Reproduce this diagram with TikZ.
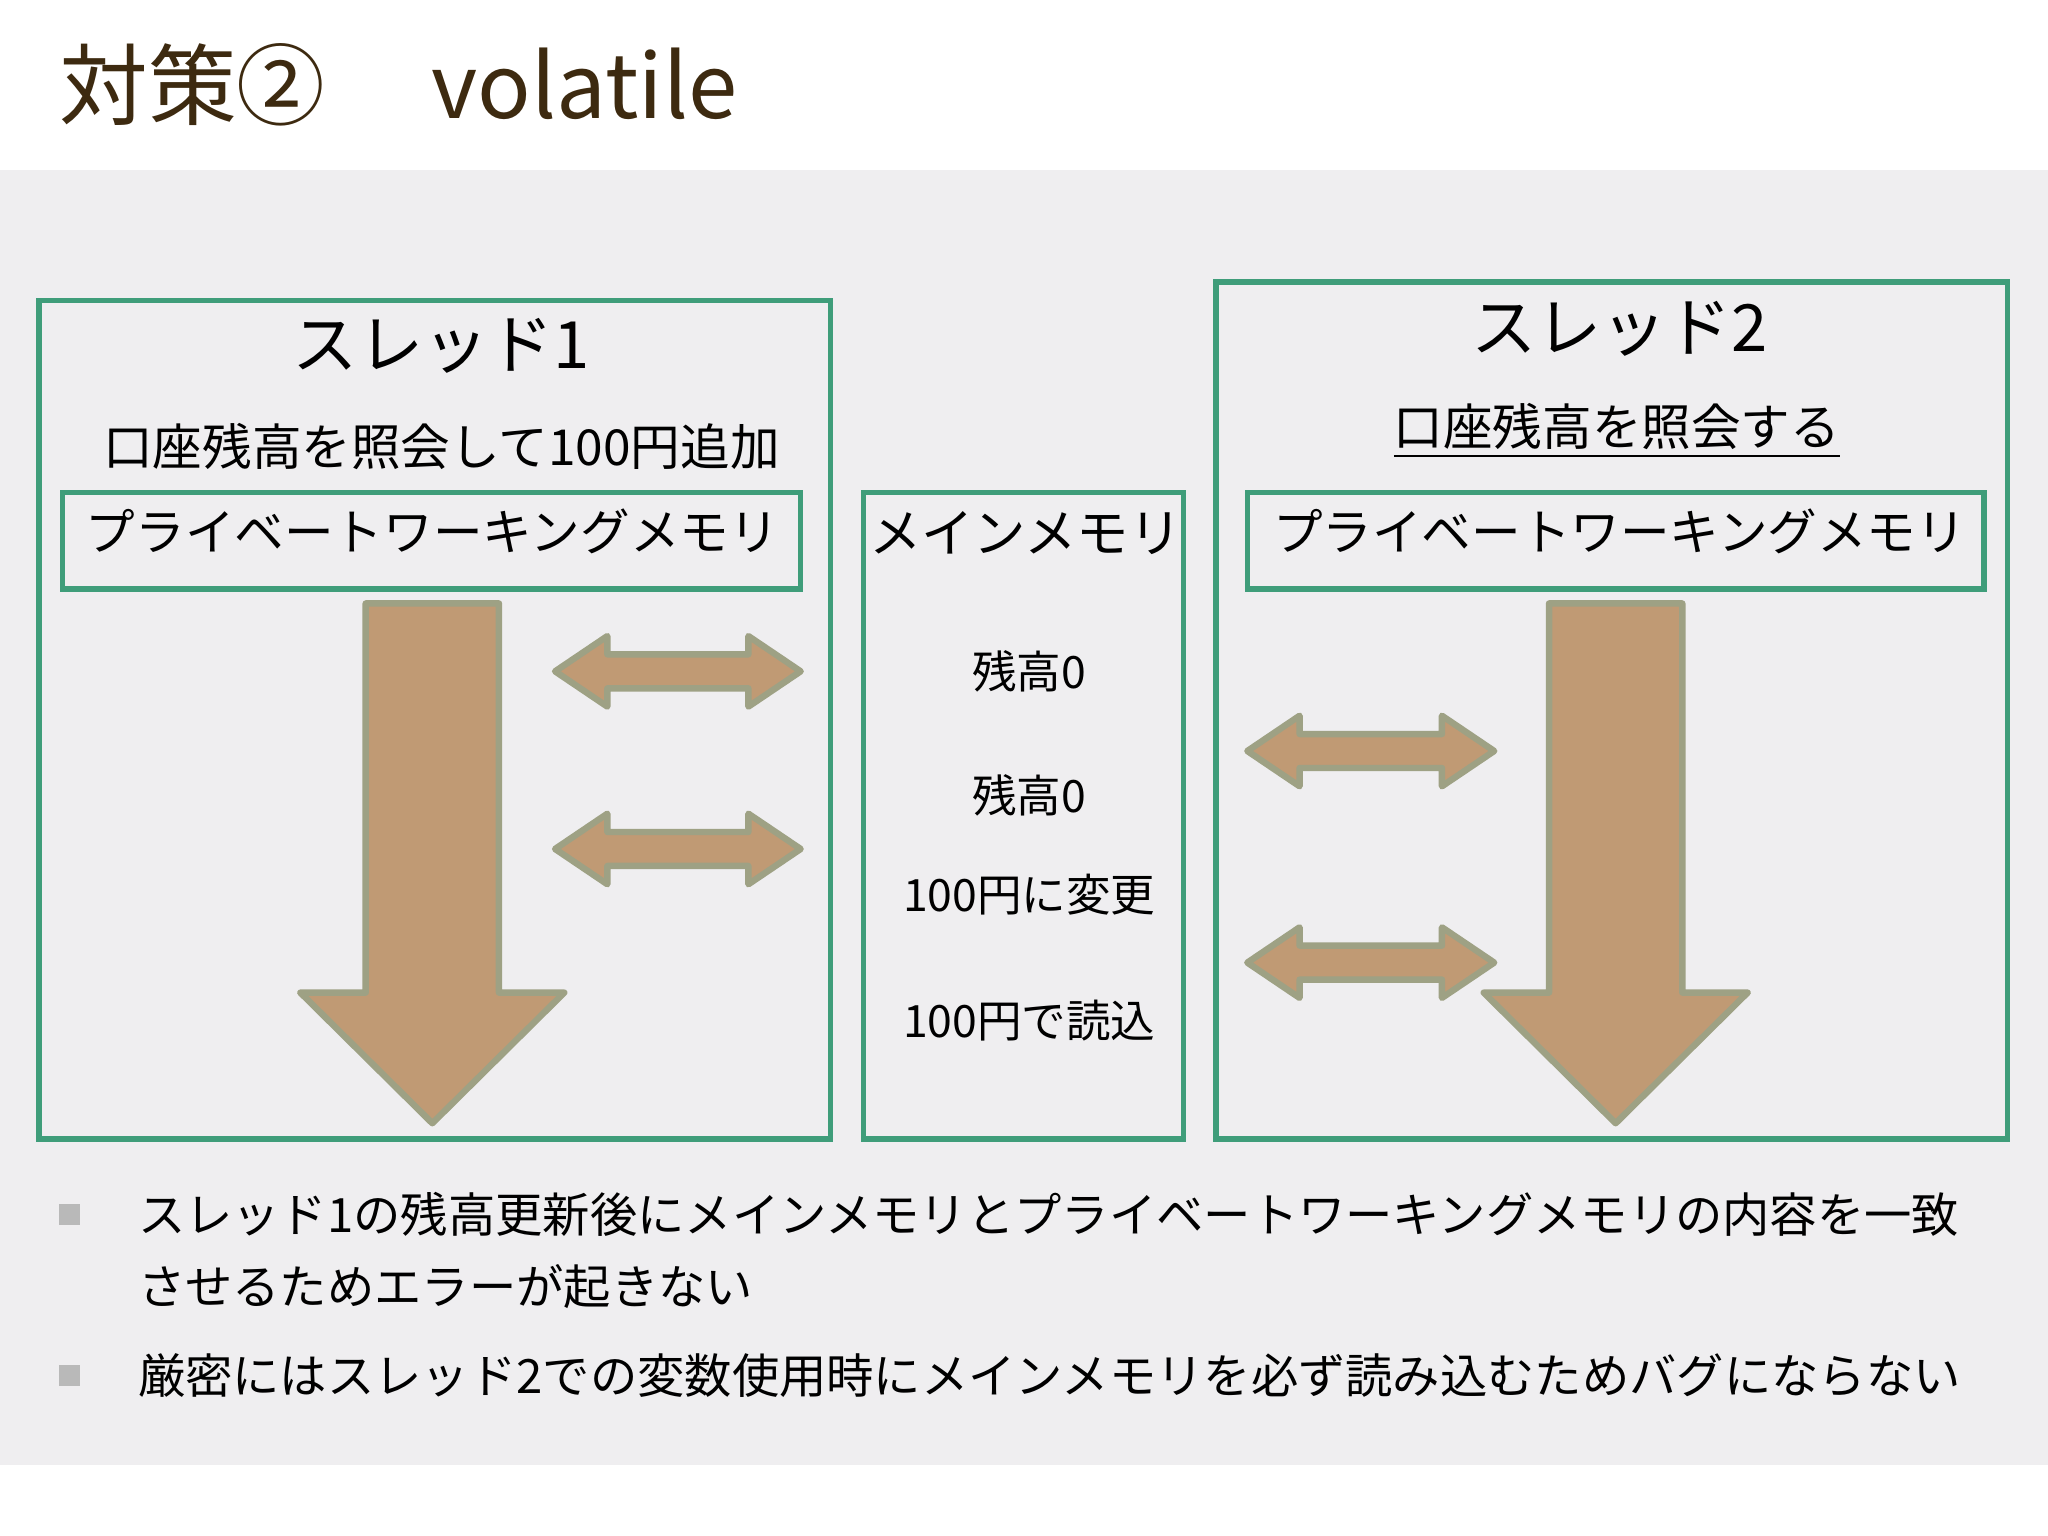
\documentclass[tikz,border=0pt]{standalone}
\usepackage{fontspec}
\setmainfont{Noto Sans CJK JP}
\usepackage{tikz}
\definecolor{frame}{HTML}{3F9D7A}
\definecolor{tan}{HTML}{C09A74}
\definecolor{tanedge}{HTML}{9EA184}
\definecolor{bggray}{HTML}{EFEEF0}
\definecolor{titlebrown}{HTML}{3D2A10}
\tikzset{
  box/.style={draw=frame, line width=1.2pt},
  arrowbody/.style={fill=tan, draw=tanedge, line width=1.4pt, line join=round},
  label/.style={inner sep=0pt, font=\fontsize{10.8}{12}\selectfont},
  memtext/.style={inner sep=0pt, font=\fontsize{9.7}{11}\selectfont},
  bullet/.style={inner sep=0pt, anchor=west, font=\fontsize{10.3}{12}\selectfont}
}
% down arrow: centre x, top y
\newcommand{\downarr}[2]{%
  \draw[arrowbody] (#1-51,#2) -- (#1+51,#2) -- (#1+51,#2+298) -- (#1+101,#2+298)
    -- (#1,#2+398) -- (#1-101,#2+298) -- (#1-51,#2+298) -- cycle;}
% double arrow: left x, right x, centre y
\newcommand{\dblarr}[3]{%
  \draw[arrowbody] (#1,#3) -- (#1+40,#3-27) -- (#1+40,#3-13) -- (#2-40,#3-13) -- (#2-40,#3-27)
    -- (#2,#3) -- (#2-40,#3+27) -- (#2-40,#3+13) -- (#1+40,#3+13) -- (#1+40,#3+27) -- cycle;}
\begin{document}
\begin{tikzpicture}[x=0.01cm, y=-0.01cm]
  \useasboundingbox (0,0) rectangle (1568,1176);
  \fill[white] (0,0) rectangle (1568,1176);
  \fill[bggray] (0,130) rectangle (1568,1122);

  % title
  \node[anchor=west, inner sep=0pt, text=titlebrown, font=\fontsize{19.3}{22}\selectfont] (title) at (45,65) {対策②\hspace{1.2em}volatile};

  % thread 1
  \draw[box] (30,230) rectangle (636,872);
  \node[inner sep=0pt, font=\fontsize{14.2}{16}\selectfont] (t1) at (338,265) {スレッド1};
  \node[label] (t1desc) at (338,342) {口座残高を照会して100円追加};
  \draw[box] (48,377) rectangle (613,451);
  \node[label] (pwm1) at (331,407) {プライベートワーキングメモリ};
  \downarr{331}{462}
  \dblarr{425}{613}{514}
  \dblarr{425}{613}{650}

  % main memory
  \draw[box] (661,377) rectangle (906,872);
  \node[inner sep=0pt, font=\fontsize{11.4}{13}\selectfont] (mm) at (785,408) {メインメモリ};
  \node[memtext] (m1) at (788,514) {残高0};
  \node[memtext] (m2) at (788,609) {残高0};
  \node[memtext] (m3) at (788,685) {100円に変更};
  \node[memtext] (m4) at (788,781) {100円で読込};

  % thread 2
  \draw[box] (931,216) rectangle (1537,872);
  \node[inner sep=0pt, font=\fontsize{14.2}{16}\selectfont] (t2) at (1240,252) {スレッド2};
  \node[label] (t2desc) at (1238,330) {\underline{口座残高を照会する}};
  \draw[box] (955,377) rectangle (1519,451);
  \node[label] (pwm2) at (1240,407) {プライベートワーキングメモリ};
  \downarr{1237}{462}
  \dblarr{955}{1144}{575}
  \dblarr{955}{1144}{737}

  % notes
  \fill[gray!55] (45,922) rectangle (61,938);
  \fill[gray!55] (45,1045) rectangle (61,1061);
  \node[bullet] (n1) at (105,930) {スレッド1の残高更新後にメインメモリとプライベートワーキングメモリの内容を一致};
  \node[bullet] (n1b) at (105,985) {させるためエラーが起きない};
  \node[bullet] (n2) at (105,1053) {厳密にはスレッド2での変数使用時にメインメモリを必ず読み込むためバグにならない};
\end{tikzpicture}
\end{document}
